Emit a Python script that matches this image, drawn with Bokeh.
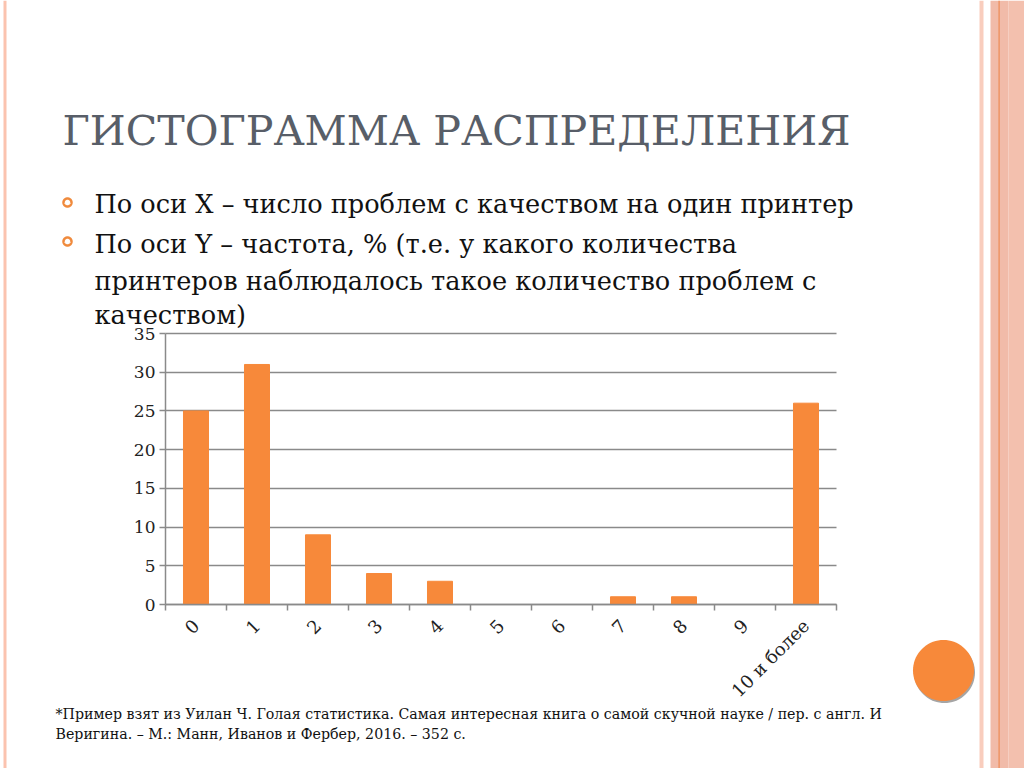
import numpy as np
from math import pi
from bokeh.plotting import figure
from bokeh.models import Range1d, FixedTicker, Label, BoxAnnotation, PolyAnnotation
from bokeh.embed import file_html
from bokeh.resources import INLINE

# ---------------- data ----------------
categories = ["0", "1", "2", "3", "4", "5", "6", "7", "8", "9", "10 и более"]
frequency = [25, 31, 9, 4, 3, 0, 0, 1, 1, 0, 26]
y_ticks = [0, 5, 10, 15, 20, 25, 30, 35]

title_text = "ГИСТОГРАММА РАСПРЕДЕЛЕНИЯ"
bullet_lines = [
    "По оси X – число проблем с качеством на один принтер",
    "По оси Y – частота, % (т.е. у какого количества",
    "принтеров наблюдалось такое количество проблем с",
    "качеством)",
]
footnote_lines = [
    "*Пример взят из Уилан Ч. Голая статистика. Самая интересная книга о самой скучной науке / пер. с англ. И",
    "Веригина. – М.: Манн, Иванов и Фербер, 2016. – 352 с.",
]

# ---------------- layout ----------------
W, H = 1024, 768
FL, FR, FT, FB = 165, 836, 333, 604   # chart plot area on the page (px, top-down)
ORANGE = "#F7893A"
GRID = "#8a8a8a"
SERIF = "DejaVu Serif"

n = len(categories)
centers = list(range(n))
bounds = [i - 0.5 for i in range(n + 1)]
ymax = y_ticks[-1]

U = (FR - FL) / n          # px per category
V = (FB - FT) / ymax       # px per unit of frequency
x_range = Range1d(-0.5 - FL / U, -0.5 + (W - FL) / U)
y_range = Range1d(-(H - FB) / V, FB / V)

p = figure(width=W, height=H, output_backend="svg", toolbar_location=None,
           x_range=x_range, y_range=y_range,
           min_border=0, min_border_left=0, min_border_right=0,
           min_border_top=0, min_border_bottom=0)
p.outline_line_color = None
p.background_fill_color = "white"
p.border_fill_color = "white"

# horizontal grid lines limited to the chart area
p.xgrid.visible = False
try:
    p.ygrid.cross_bounds = (-0.5, n - 0.5)
    p.ygrid.ticker = FixedTicker(ticks=y_ticks)
    p.ygrid.grid_line_color = GRID
    p.ygrid.grid_line_width = 1.5
except AttributeError:
    p.ygrid.visible = False
    p.segment(x0=-0.5, x1=n - 0.5, y0=y_ticks, y1=y_ticks,
              line_color=GRID, line_width=1.5, level="underlay")

p.vbar(x=centers, top=frequency, width=0.41, color=ORANGE)

# x axis
xa = p.xaxis[0]
xa.fixed_location = 0
xa.bounds = (-0.5, n - 0.5)
xa.ticker = FixedTicker(ticks=centers, minor_ticks=bounds)
xa.major_label_overrides = {c: lab for c, lab in zip(centers, categories)}
xa.major_label_orientation = pi / 4
xa.major_tick_out = 0
xa.major_tick_in = 0
xa.minor_tick_out = 6
xa.minor_tick_in = 0
xa.minor_tick_line_color = GRID
xa.minor_tick_line_width = 1.5
xa.axis_line_color = GRID
xa.axis_line_width = 1.5
xa.major_label_text_font = SERIF
xa.major_label_text_font_size = "18px"
xa.major_label_text_color = "#222222"
xa.major_label_standoff = 12

# y axis
ya = p.yaxis[0]
ya.fixed_location = -0.5
ya.bounds = (0, ymax)
ya.ticker = FixedTicker(ticks=y_ticks)
ya.major_tick_out = 6
ya.major_tick_in = 0
ya.minor_tick_out = 0
ya.minor_tick_in = 0
ya.major_tick_line_color = GRID
ya.major_tick_line_width = 1.5
ya.axis_line_color = GRID
ya.axis_line_width = 1.5
ya.major_label_text_font = SERIF
ya.major_label_text_font_size = "17px"
ya.major_label_text_color = "#222222"
ya.major_label_standoff = 4


# ---------------- page decoration (screen units, frame = whole page) ----------------
def sx(X):
    return X


def sy(Y):
    return H - Y


def box(x0, x1, y0, y1, color):
    p.add_layout(BoxAnnotation(left=sx(x0), right=sx(x1), top=sy(y0), bottom=sy(y1),
                               left_units="screen", right_units="screen",
                               top_units="screen", bottom_units="screen",
                               fill_color=color, fill_alpha=1, line_color=None,
                               level="underlay"))


box(3, 6, 0, H, "#FBC3AF")
box(979, 983, 0, H, "#F9CDBD")
box(990, 1008, 0, H, "#F1BBA9")
box(1008, W, 0, H, "#F3C0AE")
box(998, 999.2, 0, H, "#EE8C55")


def circle_poly(cx, cy, r, **kw):
    t = np.linspace(0, 2 * pi, 73)
    p.add_layout(PolyAnnotation(xs=[sx(cx + r * np.cos(a)) for a in t],
                                ys=[sy(cy + r * np.sin(a)) for a in t],
                                xs_units="screen", ys_units="screen", **kw))


circle_poly(944, 672, 30.5, fill_color="#8f8f8f", fill_alpha=0.8, line_color=None)
circle_poly(943, 670, 30.5, fill_color=ORANGE, fill_alpha=1, line_color=None)

# bullet rings
for cy in (202, 241):
    circle_poly(67, cy, 4.0, fill_color=None, fill_alpha=0, line_color="#F08A3C",
                line_alpha=1, line_width=2.5)


def text(X, Y, s, size, color="#111111", font=SERIF):
    # Y: wanted baseline on the page; shift compensates the renderer's baseline offset
    shift = 0.37 * size
    p.add_layout(Label(x=sx(X), y=sy(Y - shift), x_units="screen", y_units="screen", text=s,
                       text_font=font, text_font_size=f"{size}px", text_color=color,
                       text_baseline="alphabetic", text_align="left"))


text(62, 146, title_text, 41.2, color="#585E68")
for Y, s in zip((213, 253, 290, 324), bullet_lines):
    text(94, Y, s, 25.6)
for Y, s in zip((719, 739), footnote_lines):
    text(55, Y, s, 14.2)

open("out.html", "w").write(file_html(p, INLINE))
